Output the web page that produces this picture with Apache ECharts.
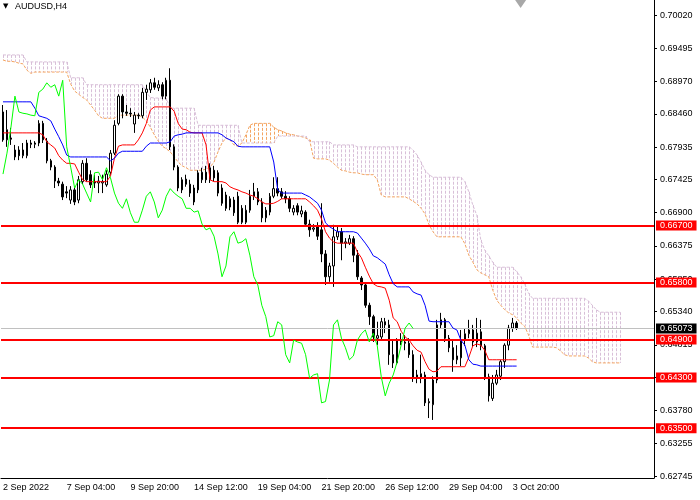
<!DOCTYPE html>
<html><head><meta charset="utf-8">
<script src="https://cdn.jsdelivr.net/npm/echarts@6/dist/echarts.min.js"></script>
<style>html,body{margin:0;padding:0;background:#fff}#c{width:700px;height:500px}</style>
</head><body><div id="c"></div>
<script>
const symbolName = 'AUDUSD,H4';
const timeLabels = ['2 Sep 2022','7 Sep 04:00','9 Sep 20:00','14 Sep 12:00','19 Sep 04:00','21 Sep 20:00','26 Sep 12:00','29 Sep 04:00','3 Oct 20:00'];
const labelStep = 16;
const slotCount = 164;
const shiftIndex = 130;
const priceTicks = [0.70020,0.69495,0.68970,0.68460,0.67935,0.67425,0.66900,0.66375,0.65850,0.65340,0.64815,0.64300,0.63780,0.63255,0.62745];
const yMin = 0.62714, yMax = 0.70257;
const levels = [0.6670,0.6580,0.6490,0.6430,0.6350];
const lastPrice = 0.65073;

// [open, close, low, high]
const candles = [
[0.6849,0.6805,0.6802,0.6860],[0.6805,0.6821,0.6794,0.6852],[0.6808,0.6806,0.6797,0.6824],[0.6778,0.6789,0.6773,0.6797],[0.6789,0.6780,0.6773,0.6795],
[0.6780,0.6789,0.6776,0.6800],[0.6780,0.6800,0.6776,0.6805],[0.6800,0.6798,0.6792,0.6805],[0.6798,0.6800,0.6792,0.6803],[0.6800,0.6831,0.6795,0.6836],
[0.6831,0.6805,0.6800,0.6835],[0.6803,0.6772,0.6768,0.6808],[0.6772,0.6762,0.6757,0.6775],[0.6762,0.6740,0.6729,0.6765],[0.6740,0.6737,0.6732,0.6745],
[0.6735,0.6715,0.6710,0.6739],[0.6723,0.6721,0.6713,0.6732],[0.6710,0.6726,0.6704,0.6732],[0.6726,0.6707,0.6702,0.6731],[0.6710,0.6742,0.6705,0.6748],
[0.6739,0.6768,0.6735,0.6773],[0.6768,0.6742,0.6739,0.6776],[0.6750,0.6734,0.6729,0.6757],[0.6739,0.6737,0.6729,0.6750],[0.6737,0.6740,0.6721,0.6748],
[0.6737,0.6739,0.6721,0.6750],[0.6734,0.6751,0.6731,0.6757],[0.6754,0.6784,0.6750,0.6789],[0.6784,0.6828,0.6781,0.6836],[0.6831,0.6874,0.6828,0.6877],
[0.6874,0.6849,0.6839,0.6877],[0.6849,0.6847,0.6843,0.6860],[0.6847,0.6846,0.6841,0.6855],[0.6830,0.6844,0.6816,0.6849],[0.6844,0.6843,0.6838,0.6847],
[0.6843,0.6880,0.6839,0.6887],[0.6880,0.6885,0.6868,0.6892],[0.6884,0.6895,0.6879,0.6901],[0.6895,0.6888,0.6884,0.6903],[0.6887,0.6892,0.6882,0.6899],
[0.6892,0.6874,0.6869,0.6896],[0.6874,0.6899,0.6869,0.6903],[0.6899,0.6794,0.6789,0.6918],[0.6794,0.6762,0.6757,0.6798],[0.6762,0.6729,0.6724,0.6765],
[0.6726,0.6742,0.6721,0.6746],[0.6743,0.6735,0.6731,0.6750],[0.6735,0.6721,0.6715,0.6742],[0.6729,0.6707,0.6702,0.6734],[0.6726,0.6753,0.6721,0.6757],
[0.6742,0.6754,0.6737,0.6761],[0.6754,0.6742,0.6737,0.6764],[0.6742,0.6761,0.6737,0.6768],[0.6757,0.6745,0.6740,0.6764],[0.6753,0.6721,0.6716,0.6757],
[0.6729,0.6705,0.6701,0.6735],[0.6718,0.6697,0.6693,0.6723],[0.6699,0.6712,0.6694,0.6716],[0.6710,0.6690,0.6685,0.6715],[0.6716,0.6675,0.6672,0.6723],
[0.6697,0.6675,0.6672,0.6702],[0.6675,0.6694,0.6672,0.6702],[0.6694,0.6716,0.6690,0.6726],[0.6716,0.6723,0.6710,0.6737],[0.6723,0.6707,0.6702,0.6729],
[0.6707,0.6682,0.6675,0.6713],[0.6682,0.6694,0.6675,0.6699],[0.6691,0.6716,0.6686,0.6721],[0.6716,0.6728,0.6713,0.6746],[0.6728,0.6721,0.6716,0.6746],
[0.6723,0.6716,0.6712,0.6729],[0.6716,0.6712,0.6705,0.6724],[0.6712,0.6697,0.6691,0.6716],[0.6691,0.6697,0.6686,0.6702],[0.6701,0.6691,0.6686,0.6705],
[0.6688,0.6693,0.6683,0.6701],[0.6691,0.6672,0.6668,0.6694],[0.6672,0.6663,0.6652,0.6679],[0.6664,0.6666,0.6660,0.6672],[0.6669,0.6653,0.6647,0.6675],
[0.6663,0.6625,0.6612,0.6705],[0.6625,0.6589,0.6576,0.6631],[0.6589,0.6606,0.6581,0.6611],[0.6606,0.6652,0.6573,0.6671],[0.6652,0.6660,0.6647,0.6669],
[0.6660,0.6642,0.6615,0.6666],[0.6642,0.6644,0.6634,0.6650],[0.6642,0.6649,0.6639,0.6655],[0.6649,0.6623,0.6612,0.6653],[0.6623,0.6589,0.6584,0.6631],
[0.6587,0.6576,0.6568,0.6590],[0.6576,0.6544,0.6540,0.6579],[0.6544,0.6526,0.6513,0.6548],[0.6526,0.6494,0.6486,0.6529],[0.6492,0.6496,0.6481,0.6518],
[0.6494,0.6518,0.6489,0.6524],[0.6518,0.6513,0.6500,0.6524],[0.6513,0.6466,0.6450,0.6521],[0.6466,0.6453,0.6445,0.6489],[0.6453,0.6489,0.6450,0.6492],
[0.6489,0.6486,0.6481,0.6500],[0.6486,0.6484,0.6473,0.6497],[0.6484,0.6466,0.6461,0.6492],[0.6466,0.6429,0.6423,0.6473],[0.6429,0.6434,0.6421,0.6442],
[0.6429,0.6436,0.6421,0.6466],[0.6434,0.6390,0.6385,0.6439],[0.6390,0.6392,0.6366,0.6397],[0.6387,0.6426,0.6363,0.6432],[0.6426,0.6513,0.6421,0.6521],
[0.6513,0.6521,0.6508,0.6532],[0.6521,0.6492,0.6486,0.6524],[0.6492,0.6477,0.6470,0.6497],[0.6477,0.6458,0.6439,0.6489],[0.6458,0.6464,0.6451,0.6481],
[0.6461,0.6489,0.6448,0.6505],[0.6489,0.6499,0.6480,0.6507],[0.6499,0.6505,0.6492,0.6521],[0.6505,0.6486,0.6478,0.6513],[0.6486,0.6500,0.6478,0.6524],
[0.6502,0.6480,0.6473,0.6521],[0.6480,0.6431,0.6426,0.6483],[0.6431,0.6401,0.6392,0.6436],[0.6397,0.6421,0.6393,0.6434],[0.6421,0.6434,0.6418,0.6442],
[0.6432,0.6455,0.6426,0.6458],[0.6455,0.6481,0.6445,0.6484],[0.6481,0.6508,0.6473,0.6513],[0.6508,0.6516,0.6502,0.6524],[0.6516,0.65073,0.6505,0.6519]
];

const tenkan = [
0.6816,0.6816,0.6816,0.6816,0.6816,0.6816,0.6816,0.6816,0.6816,0.6816,
0.6813,0.6802,0.6797,0.6792,0.6780,0.6773,0.6768,0.6768,0.6767,0.6754,
0.6742,0.6739,0.6739,0.6739,0.6739,0.6739,0.6739,0.6748,0.6776,0.6795,
0.6797,0.6797,0.6797,0.6797,0.6805,0.6816,0.6831,0.6852,0.6857,0.6857,
0.6857,0.6857,0.6857,0.6850,0.6831,0.6822,0.6821,0.6817,0.6816,0.6816,
0.6816,0.6797,0.6742,0.6739,0.6739,0.6739,0.6737,0.6731,0.6728,0.6726,
0.6723,0.6721,0.6718,0.6716,0.6712,0.6707,0.6704,0.6704,0.6705,0.6708,
0.6712,0.6712,0.6712,0.6712,0.6712,0.6712,0.6712,0.6707,0.6701,0.6694,
0.6680,0.6660,0.6650,0.6644,0.6642,0.6642,0.6642,0.6642,0.6642,0.6628,
0.6619,0.6604,0.6590,0.6578,0.6574,0.6573,0.6571,0.6552,0.6524,0.6518,
0.6503,0.6494,0.6489,0.6480,0.6473,0.6470,0.6455,0.6443,0.6439,0.6440,
0.6447,0.6447,0.6447,0.6447,0.6447,0.6447,0.6447,0.6462,0.6480,0.6483,
0.6481,0.6473,0.6458,0.6458,0.6458,0.6458,0.6458,0.6458,0.6458,0.6458
];

const kijun = [
0.6865,0.6865,0.6865,0.6865,0.6865,0.6865,0.6865,0.6865,0.6855,0.6843,
0.6841,0.6839,0.6835,0.6822,0.6810,0.6797,0.6781,0.6778,0.6778,0.6778,
0.6778,0.6778,0.6778,0.6778,0.6778,0.6778,0.6778,0.6772,0.6776,0.6784,
0.6787,0.6787,0.6787,0.6787,0.6787,0.6787,0.6795,0.6800,0.6800,0.6800,
0.6800,0.6800,0.6802,0.6811,0.6813,0.6814,0.6816,0.6816,0.6816,0.6816,
0.6816,0.6816,0.6816,0.6816,0.6816,0.6813,0.6808,0.6805,0.6802,0.6795,
0.6794,0.6794,0.6794,0.6794,0.6794,0.6794,0.6794,0.6794,0.6770,0.6726,
0.6721,0.6721,0.6721,0.6721,0.6721,0.6721,0.6718,0.6715,0.6710,0.6705,
0.6694,0.6674,0.6668,0.6664,0.6660,0.6660,0.6660,0.6660,0.6660,0.6658,
0.6650,0.6642,0.6633,0.6622,0.6619,0.6614,0.6609,0.6592,0.6578,0.6573,
0.6573,0.6573,0.6573,0.6565,0.6562,0.6560,0.6544,0.6519,0.6518,0.6518,
0.6518,0.6518,0.6518,0.6508,0.6505,0.6489,0.6481,0.6458,0.6451,0.6450,
0.6448,0.6448,0.6448,0.6448,0.6448,0.6448,0.6448,0.6448,0.6448,0.6448
];

const chikou = [
0.6751,0.6784,0.6825,0.6874,0.6849,0.6847,0.6846,0.6844,0.6843,0.6880,
0.6885,0.6895,0.6888,0.6892,0.6874,0.6899,0.6794,0.6762,0.6729,0.6742,
0.6735,0.6721,0.6707,0.6753,0.6754,0.6742,0.6761,0.6745,0.6721,0.6705,
0.6697,0.6712,0.6690,0.6675,0.6675,0.6694,0.6716,0.6723,0.6707,0.6682,
0.6694,0.6716,0.6728,0.6721,0.6716,0.6712,0.6697,0.6697,0.6691,0.6693,
0.6672,0.6663,0.6666,0.6653,0.6625,0.6589,0.6606,0.6652,0.6660,0.6642,
0.6644,0.6649,0.6623,0.6589,0.6576,0.6544,0.6526,0.6494,0.6496,0.6518,
0.6513,0.6466,0.6453,0.6489,0.6486,0.6484,0.6466,0.6429,0.6434,0.6436,
0.6390,0.6392,0.6426,0.6513,0.6521,0.6492,0.6477,0.6458,0.6464,0.6489,
0.6499,0.6505,0.6486,0.6500,0.6480,0.6431,0.6401,0.6421,0.6434,0.6455,
0.6481,0.6508,0.6516,0.65073
];

const spanA = [
0.6931,0.6929,0.6929,0.6928,0.6926,0.6925,0.6915,0.6910,0.6912,0.6912,
0.6912,0.6912,0.6912,0.6912,0.6912,0.6912,0.6912,0.6893,0.6882,0.6877,
0.6872,0.6868,0.6860,0.6852,0.6843,0.6839,0.6839,0.6839,0.6839,0.6844,
0.6844,0.6844,0.6844,0.6844,0.6844,0.6841,0.6835,0.6825,0.6813,0.6803,
0.6795,0.6791,0.6786,0.6778,0.6770,0.6764,0.6761,0.6757,0.6757,0.6757,
0.6757,0.6759,0.6762,0.6770,0.6786,0.6800,0.6808,0.6805,0.6797,0.6795,
0.6800,0.6813,0.6828,0.6831,0.6831,0.6831,0.6831,0.6831,0.6825,0.6821,
0.6819,0.6816,0.6814,0.6813,0.6811,0.6810,0.6808,0.6805,0.6776,0.6775,
0.6775,0.6775,0.6773,0.6768,0.6762,0.6757,0.6756,0.6754,0.6753,0.6753,
0.6751,0.6750,0.6750,0.6750,0.6742,0.6718,0.6715,0.6715,0.6715,0.6715,
0.6715,0.6715,0.6712,0.6708,0.6704,0.6697,0.6688,0.6671,0.6660,0.6652,
0.6652,0.6652,0.6652,0.6652,0.6652,0.6652,0.6641,0.6623,0.6612,0.6600,
0.6595,0.6592,0.6589,0.6568,0.6552,0.6544,0.6537,0.6532,0.6529,0.6524,
0.6516,0.6511,0.6497,0.6478,0.6478,0.6478,0.6478,0.6478,0.6478,0.6477,
0.6472,0.6466,0.6464,0.6464,0.6464,0.6464,0.6464,0.6461,0.6455,0.6453,
0.6453,0.6453,0.6453,0.6453,0.6453,0.6453
];

const spanB = [
0.6939,0.6939,0.6939,0.6939,0.6939,0.6939,0.6928,0.6928,0.6928,0.6928,
0.6928,0.6928,0.6928,0.6928,0.6928,0.6928,0.6928,0.6903,0.6903,0.6903,
0.6903,0.6892,0.6892,0.6892,0.6892,0.6892,0.6892,0.6892,0.6892,0.6892,
0.6892,0.6892,0.6892,0.6892,0.6892,0.6892,0.6880,0.6872,0.6871,0.6871,
0.6871,0.6871,0.6855,0.6855,0.6855,0.6855,0.6855,0.6855,0.6855,0.6828,
0.6828,0.6828,0.6828,0.6828,0.6828,0.6828,0.6828,0.6828,0.6828,0.6828,
0.6800,0.6800,0.6800,0.6800,0.6800,0.6800,0.6800,0.6800,0.6800,0.6811,
0.6811,0.6811,0.6811,0.6811,0.6811,0.6811,0.6811,0.6802,0.6802,0.6802,
0.6802,0.6802,0.6802,0.6797,0.6797,0.6797,0.6797,0.6797,0.6797,0.6794,
0.6794,0.6794,0.6794,0.6794,0.6794,0.6794,0.6794,0.6794,0.6794,0.6794,
0.6794,0.6794,0.6794,0.6789,0.6781,0.6770,0.6757,0.6750,0.6746,0.6746,
0.6746,0.6746,0.6746,0.6746,0.6746,0.6746,0.6739,0.6723,0.6702,0.6686,
0.6647,0.6631,0.6622,0.6612,0.6604,0.6604,0.6604,0.6604,0.6604,0.6597,
0.6589,0.6578,0.6563,0.6555,0.6555,0.6555,0.6555,0.6555,0.6555,0.6555,
0.6555,0.6555,0.6555,0.6555,0.6555,0.6555,0.6555,0.6551,0.6544,0.6537,
0.6533,0.6533,0.6533,0.6533,0.6533,0.6533
];

const FONT = "'Liberation Sans', Arial, sans-serif";
const categories = Array.from({length: slotCount}, (_, i) => String(i));
const isLabelSlot = (i) => i % labelStep === 0 && i / labelStep < timeLabels.length;
const cloudData = spanA.map((a, i) => [i, a, spanB[i]]);

const chart = echarts.init(document.getElementById('c'), null, {renderer: 'canvas'});
chart.setOption({
  animation: false,
  backgroundColor: '#ffffff',
  title: {
    text: '{t|▼}' + symbolName,
    left: 3, top: 2, padding: 0,
    textStyle: {fontSize: 9, fontWeight: 'normal', color: '#000', fontFamily: FONT,
      rich: {t: {fontSize: 7, width: 12, color: '#000', fontFamily: 'DejaVu Sans'}}}
  },
  grid: {left: -1.9, right: 46, top: 0, bottom: 22, containLabel: false},
  xAxis: {
    type: 'category', data: categories, boundaryGap: true,
    axisLine: {show: true, lineStyle: {color: '#000', width: 1}},
    axisTick: {show: false},
    axisLabel: {
      interval: (i) => isLabelSlot(i),
      formatter: (v, i) => isLabelSlot(i) ? timeLabels[i / labelStep] : '',
      align: 'left', fontSize: 9, color: '#000', fontFamily: FONT, margin: 5
    },
    splitLine: {show: false}
  },
  yAxis: {
    type: 'value', position: 'right', min: yMin, max: yMax, scale: true,
    axisLine: {show: true, lineStyle: {color: '#000', width: 1}},
    axisTick: {show: true, length: 3, customValues: priceTicks, lineStyle: {color: '#000'}},
    axisLabel: {customValues: priceTicks, formatter: (v) => Number(v).toFixed(5),
      fontSize: 9, color: '#000', fontFamily: FONT, margin: 6},
    splitLine: {show: false}
  },
  series: [
    {
      name: 'cloud', type: 'custom', data: cloudData, z: 2, silent: true,
      encode: {x: 0, y: [1, 2]},
      renderItem: (params, api) => {
        const i = params.dataIndex;
        const a = api.value(1), b = api.value(2);
        const p1 = api.coord([i, a]), p2 = api.coord([i, b]);
        const x = Math.round(p1[0]) + 0.5;
        return {type: 'line', shape: {x1: x, y1: Math.min(p1[1], p2[1]), x2: x, y2: Math.max(p1[1], p2[1])},
          style: {stroke: a > b ? '#f4a460' : '#d8bfd8', lineWidth: 1, lineDash: [3, 1.5]}};
      }
    },
    {name: 'Senkou Span A', type: 'line', data: spanA, symbol: 'none', z: 3, silent: true,
      lineStyle: {color: '#f4a460', width: 1, type: [3, 1.5]}},
    {name: 'Senkou Span B', type: 'line', data: spanB, symbol: 'none', z: 3, silent: true,
      lineStyle: {color: '#d8bfd8', width: 1, type: [3, 1.5]}},
    {
      name: symbolName, type: 'candlestick', data: candles, barWidth: 2, z: 4,
      itemStyle: {color: '#ffffff', color0: '#000000', borderColor: '#000000', borderColor0: '#000000', borderWidth: 1},
      markLine: {
        silent: true, symbol: ['none', 'none'], animation: false, precision: 5,
        data: [
          {yAxis: lastPrice, lineStyle: {color: '#c0c0c0', width: 1, type: 'solid'},
            label: {backgroundColor: '#000', color: '#fff'}}
        ].concat(levels.map(v => ({yAxis: v, lineStyle: {color: '#ff0000', width: 2, type: 'solid'},
            label: {backgroundColor: '#ff0000', color: '#fff'}}))),
        label: {show: true, position: 'end', distance: 2, fontSize: 9, fontFamily: FONT,
          padding: [1, 4, 0, 4], formatter: (p) => Number(p.value).toFixed(5)}
      },
      markPoint: {
        silent: true, symbol: 'triangle', symbolSize: [11, 8], symbolRotate: 180, symbolOffset: [0, 4],
        itemStyle: {color: '#a8a8a8'}, label: {show: false},
        data: [{coord: [shiftIndex, yMax]}]
      }
    },
    {name: 'Tenkan-sen', type: 'line', data: tenkan, symbol: 'none', z: 5, silent: true,
      lineStyle: {color: '#ff0000', width: 1}},
    {name: 'Kijun-sen', type: 'line', data: kijun, symbol: 'none', z: 5, silent: true,
      lineStyle: {color: '#0000ff', width: 1}},
    {name: 'Chikou Span', type: 'line', data: chikou, symbol: 'none', z: 5, silent: true,
      lineStyle: {color: '#00ff00', width: 1}}
  ]
});
</script>
</body></html>
